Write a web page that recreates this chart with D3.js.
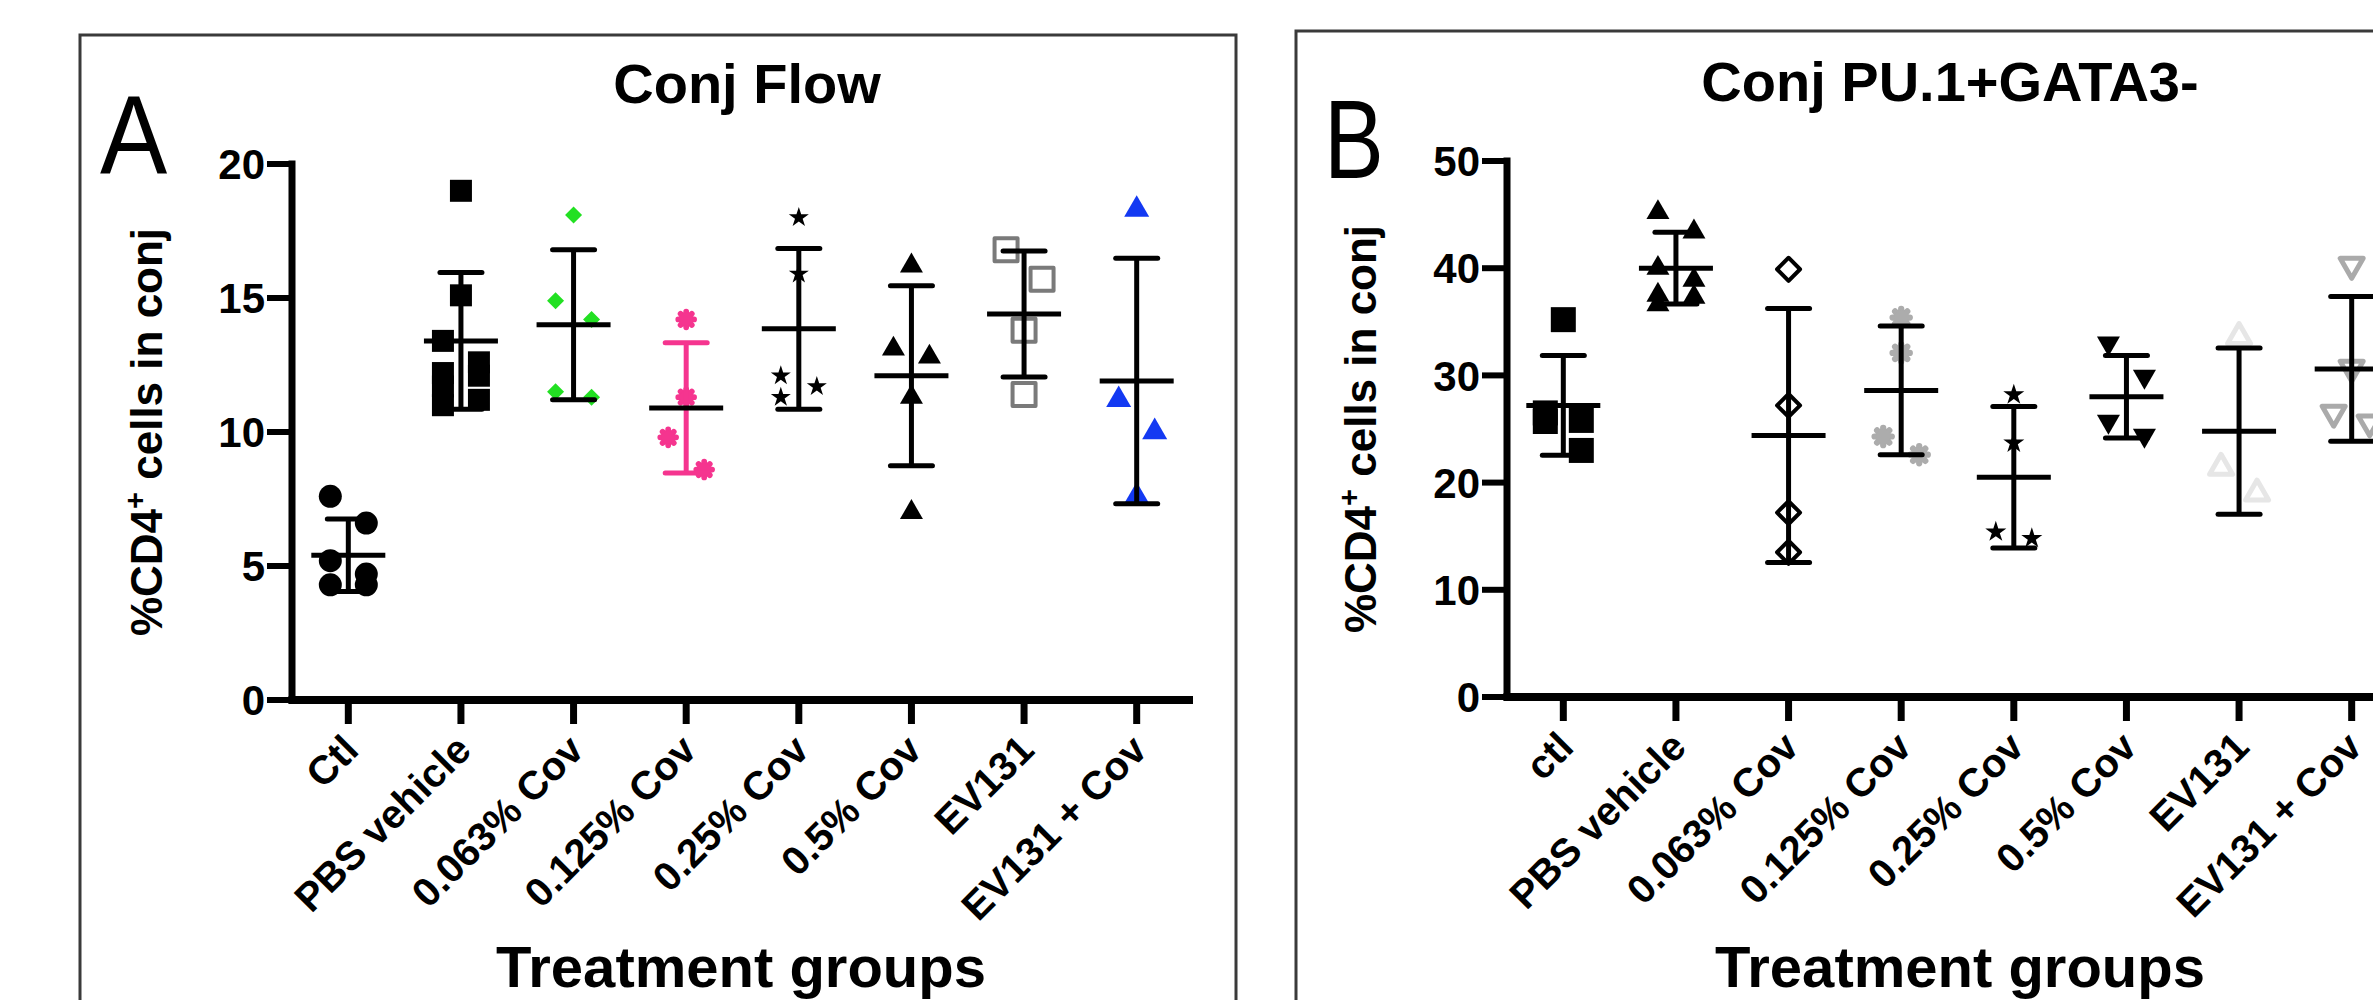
<!DOCTYPE html>
<html>
<head>
<meta charset="utf-8">
<script src="https://cdn.jsdelivr.net/npm/d3@7"></script>
<style>
  body { margin: 0; background: #fff; }
  svg { display: block; font-family: "Liberation Sans", Arial, sans-serif; }
</style>
</head>
<body>
<svg id="fig" width="2373" height="1000"></svg>
<script>
(function () {
  // ---- data ----
  var groupsA = ["Ctl", "PBS vehicle", "0.063% Cov", "0.125% Cov", "0.25% Cov", "0.5% Cov", "EV131", "EV131 + Cov"];
  var groupsB = ["ctl", "PBS vehicle", "0.063% Cov", "0.125% Cov", "0.25% Cov", "0.5% Cov", "EV131", "EV131 + Cov"];
  var ticksA = [0, 5, 10, 15, 20];
  var ticksB = [0, 10, 20, 30, 40, 50];

  var pointsA = [
    [7.6, 6.6, 5.2, 4.7, 4.3, 4.3],
    [19.0, 15.1, 13.4, 12.6, 12.2, 12.1, 11.7, 11.2, 11.0],
    [18.1, 14.9, 14.2, 11.5, 11.3],
    [14.2, 11.3, 9.8, 8.6],
    [18.0, 15.9, 12.1, 11.7, 11.3],
    [16.2, 13.1, 12.8, 11.3, 7.0],
    [16.8, 15.7, 13.8, 11.4],
    [18.3, 11.2, 10.0, 7.6]
  ];
  var meanA = [5.4, 13.4, 14.0, 10.9, 13.85, 12.1, 14.4, 11.9];
  var sdA = [1.35, 2.55, 2.8, 2.43, 3.0, 3.36, 2.35, 4.58];

  var pointsB = [
    [35.2, 26.5, 25.8, 25.7, 23.0],
    [45.2, 43.4, 40.0, 38.9, 37.5, 37.3, 36.6],
    [39.9, 27.2, 17.2, 13.5],
    [35.4, 32.1, 24.3, 22.6],
    [28.2, 23.7, 15.4, 14.8],
    [33.0, 29.9, 25.7, 24.4],
    [33.6, 21.4, 19.0],
    [40.3, 30.7, 26.5, 25.6]
  ];
  var meanB = [27.2, 40.0, 24.4, 28.6, 20.5, 28.0, 24.8, 30.6];
  var sdB = [4.65, 3.35, 11.85, 6.0, 6.6, 3.85, 7.75, 6.75];

  // marker looks per column
  var markA = [
    {type: "circle", w: 23, fill: "#000"},
    {type: "square", w: 22, fill: "#000"},
    {type: "diamond", w: 17, fill: "#22e022"},
    {type: "asterisk", w: 22, fill: "#f5358f"},
    {type: "star", w: 20, fill: "#000"},
    {type: "triangle", w: 23, fill: "#000"},
    {type: "square", w: 27, fill: "none", stroke: "#7a7a7a", sw: 4},
    {type: "triangle", w: 25, fill: "#1339f2"}
  ];
  var barColorA = ["#000", "#000", "#000", "#f5358f", "#000", "#000", "#000", "#000"];

  var markB = [
    {type: "square", w: 25, fill: "#000"},
    {type: "triangle", w: 23, fill: "#000"},
    {type: "diamond", w: 27, fill: "#fff", stroke: "#000", sw: 4},
    {type: "asterisk", w: 24, fill: "#acacac"},
    {type: "star", w: 21, fill: "#000"},
    {type: "triangleDown", w: 23, fill: "#000"},
    {type: "triangle", w: 28, fill: "none", stroke: "#e6e6e6", sw: 5},
    {type: "triangleDown", w: 28, fill: "none", stroke: "#aaaaaa", sw: 5}
  ];
  var barColorB = ["#000", "#000", "#000", "#000", "#000", "#000", "#000", "#000"];

  var svg = d3.select("#fig");

  function markerPath(m) {
    var w = m.w - (m.sw || 0);
    switch (m.type) {
      case "circle": return d3.symbol(d3.symbolCircle, Math.PI * w * w / 4)();
      case "square": return d3.symbol(d3.symbolSquare, w * w)();
      case "diamond": return d3.symbol(d3.symbolSquare, w * w / 2)();
      case "triangle":
      case "triangleDown": return d3.symbol(d3.symbolTriangle, w * w * Math.sqrt(3) / 4)();
      case "star": var r = w / 1.9; return d3.symbol(d3.symbolStar, r * r / 0.8908)();
    }
    return null;
  }

  function asteriskPath(w) {
    var r = w * 0.36, p = d3.path();
    for (var a = 0; a < 4; a++) {
      var t = a * Math.PI / 4;
      p.moveTo(-r * Math.cos(t), -r * Math.sin(t));
      p.lineTo(r * Math.cos(t), r * Math.sin(t));
    }
    return p.toString();
  }

  // column scatter: points that sit close in y are pushed left / right in turn
  function spread(vals, y) {
    var gap = 35, a = 18;
    var order = vals.map(function (v, i) { return i; })
      .sort(function (p, q) { return vals[q] - vals[p]; });
    var out = new Array(vals.length), cluster = [];
    function flush() {
      cluster.forEach(function (idx, k) {
        out[idx] = cluster.length === 1 ? 0 : (k % 2 ? a : -a);
      });
      cluster = [];
    }
    order.forEach(function (i, k) {
      if (k > 0 && y(vals[i]) - y(vals[order[k - 1]]) >= gap) flush();
      cluster.push(i);
    });
    flush();
    return out;
  }

  function drawPanel(cfg) {
    var g = svg.append("g");
    var x = d3.scaleBand().domain(cfg.groups).range(cfg.xRange);
    var y = d3.scaleLinear().domain([0, cfg.ticks[cfg.ticks.length - 1]]).range(cfg.yRange);
    var ax = cfg.xRange[0], y0 = y(0);

    // frame
    g.append("rect")
      .attr("x", cfg.frame[0]).attr("y", cfg.frame[1])
      .attr("width", cfg.frame[2]).attr("height", 1100)
      .attr("fill", "none").attr("stroke", "#3a3a3a").attr("stroke-width", 3);

    // panel letter
    g.append("text")
      .attr("transform", "translate(" + cfg.letterPos[0] + "," + cfg.letterPos[1] + ") scale(" + cfg.letterScale + ",1)")
      .attr("font-size", 112).attr("font-weight", 400).text(cfg.letter);

    // title
    g.append("text").attr("x", cfg.titlePos[0]).attr("y", cfg.titlePos[1])
      .attr("text-anchor", "middle").attr("font-size", 56).attr("font-weight", "bold")
      .text(cfg.title);

    // y axis
    g.append("line").attr("x1", ax).attr("x2", ax)
      .attr("y1", y(cfg.ticks[cfg.ticks.length - 1]) - 3.5).attr("y2", y0 + 3.5)
      .attr("stroke", "#000").attr("stroke-width", 7);
    g.selectAll(".yt").data(cfg.ticks).enter().append("line")
      .attr("x1", ax - 25).attr("x2", ax).attr("y1", y).attr("y2", y)
      .attr("stroke", "#000").attr("stroke-width", 6);
    g.selectAll(".yl").data(cfg.ticks).enter().append("text")
      .attr("x", ax - 27).attr("y", y).attr("dy", "0.36em")
      .attr("text-anchor", "end").attr("font-size", 42).attr("font-weight", "bold")
      .text(function (d) { return d; });

    // x axis
    g.append("line").attr("x1", ax - 3.5).attr("x2", cfg.xRange[1])
      .attr("y1", y0).attr("y2", y0)
      .attr("stroke", "#000").attr("stroke-width", 8);
    g.selectAll(".xt").data(cfg.groups).enter().append("line")
      .attr("x1", function (d) { return x(d) + x.bandwidth() / 2; })
      .attr("x2", function (d) { return x(d) + x.bandwidth() / 2; })
      .attr("y1", y0).attr("y2", y0 + 24)
      .attr("stroke", "#000").attr("stroke-width", 7);
    g.selectAll(".xl").data(cfg.groups).enter().append("text")
      .attr("transform", function (d) {
        return "translate(" + (x(d) + x.bandwidth() / 2 + 2) + "," + (y0 + 42) + ") rotate(-45)";
      })
      .attr("dy", "0.36em").attr("text-anchor", "end")
      .attr("font-size", 40).attr("font-weight", "bold")
      .text(function (d) { return d; });

    // axis titles
    var yt = g.append("text")
      .attr("transform", "translate(" + cfg.yTitleX + "," + (cfg.yRange[0] + cfg.yRange[1]) / 2 + ") rotate(-90)")
      .attr("text-anchor", "middle").attr("font-size", 44).attr("font-weight", "bold");
    yt.append("tspan").text("%CD4");
    yt.append("tspan").attr("dy", -17).attr("font-size", 29).text("+");
    yt.append("tspan").attr("dy", 17).text(" cells in conj");

    g.append("text").attr("x", cfg.xTitleX).attr("y", 987)
      .attr("text-anchor", "middle").attr("font-size", 58).attr("font-weight", "bold")
      .text("Treatment groups");

    // points, then mean and SD on top
    cfg.groups.forEach(function (grp, i) {
      var cx = x(grp) + x.bandwidth() / 2;
      var m = cfg.marks[i];
      var offs = spread(cfg.points[i], y);
      var pg = g.append("g");
      var rot = m.type === "diamond" ? " rotate(45)" : m.type === "triangleDown" ? " rotate(180)" : "";
      pg.selectAll("path").data(cfg.points[i]).enter().append("path")
        .attr("transform", function (d, j) {
          return "translate(" + (cx + offs[j]) + "," + y(d) + ")" + rot;
        })
        .attr("d", m.type === "asterisk" ? asteriskPath(m.w) : markerPath(m))
        .attr("fill", m.type === "asterisk" ? "none" : m.fill)
        .attr("stroke", m.type === "asterisk" ? m.fill : (m.stroke || "none"))
        .attr("stroke-width", m.type === "asterisk" ? m.w * 0.26 : (m.sw || 0))
        .attr("stroke-linecap", "round")
        .attr("stroke-linejoin", "round");
      if (m.type === "asterisk") {
        pg.selectAll("circle").data(cfg.points[i]).enter().append("circle")
          .attr("cx", function (d, j) { return cx + offs[j]; })
          .attr("cy", y).attr("r", m.w * 0.3).attr("fill", m.fill);
      }

      var lo = cfg.mean[i] - cfg.sd[i], hi = cfg.mean[i] + cfg.sd[i];
      var col = cfg.barColor[i];
      g.append("line").attr("x1", cx).attr("x2", cx).attr("y1", y(hi)).attr("y2", y(lo))
        .attr("stroke", col).attr("stroke-width", 5);
      [hi, lo].forEach(function (v) {
        g.append("line").attr("x1", cx - 21).attr("x2", cx + 21).attr("y1", y(v)).attr("y2", y(v))
          .attr("stroke", col).attr("stroke-width", 5).attr("stroke-linecap", "round");
      });
      g.append("line").attr("x1", cx - 37).attr("x2", cx + 37)
        .attr("y1", y(cfg.mean[i])).attr("y2", y(cfg.mean[i]))
        .attr("stroke", "#000").attr("stroke-width", 5);
    });
  }

  drawPanel({
    groups: groupsA, ticks: ticksA, points: pointsA, mean: meanA, sd: sdA,
    marks: markA, barColor: barColorA,
    xRange: [292, 1193], yRange: [700, 164],
    frame: [80, 35, 1156], letter: "A", letterPos: [100, 173], letterScale: 0.9,
    title: "Conj Flow", titlePos: [747, 103], yTitleX: 162, xTitleX: 741
  });

  drawPanel({
    groups: groupsB, ticks: ticksB, points: pointsB, mean: meanB, sd: sdB,
    marks: markB, barColor: barColorB,
    xRange: [1507, 2408], yRange: [697, 161],
    frame: [1296, 31, 1200], letter: "B", letterPos: [1324, 178], letterScale: 0.8,
    title: "Conj PU.1+GATA3-", titlePos: [1950, 101], yTitleX: 1376, xTitleX: 1960
  });
})();
</script>
</body>
</html>
